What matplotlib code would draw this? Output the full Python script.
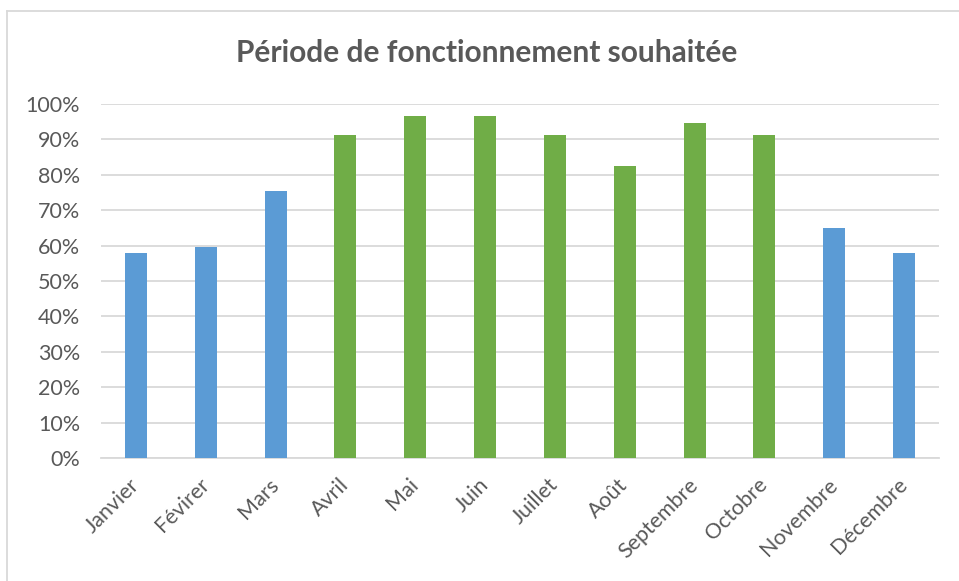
import matplotlib.pyplot as plt
from matplotlib.lines import Line2D
import numpy as np

months = ['Janvier', 'Févirer', 'Mars', 'Avril', 'Mai', 'Juin', 'Juillet',
          'Août', 'Septembre', 'Octobre', 'Novembre', 'Décembre']
values = [57.9, 59.6, 75.4, 91.2, 96.5, 96.5, 91.2, 82.5, 94.7, 91.2, 64.9, 57.9]
# green = summer season months
in_season = [False, False, False, True, True, True, True, True, True, True, False, False]
y_ticks = [0, 10, 20, 30, 40, 50, 60, 70, 80, 90, 100]

blue = '#5B9BD5'
green = '#70AD47'
text_col = '#595959'

plt.rcParams['font.family'] = ['Lato', 'DejaVu Sans']

fig = plt.figure(figsize=(9.59, 5.81), dpi=100)
ax = fig.add_axes([101 / 959, 1 - 458 / 581, 838 / 959, 354 / 581])

x = np.arange(len(months))
colors = [green if s else blue for s in in_season]
ax.bar(x, values, width=0.315, color=colors, zorder=3)

ax.set_xlim(-0.5, len(months) - 0.5)
ax.set_ylim(0, 100)
ax.set_yticks(y_ticks)
ax.set_yticklabels(['%d%%' % t for t in y_ticks])
ax.set_xticks(x)
ax.set_xticklabels(months, rotation=45, ha='right', va='center', rotation_mode='anchor')

ax.grid(axis='y', color='#d9d9d9', linewidth=1.3, zorder=0)
for s in ['top', 'right', 'left']:
    ax.spines[s].set_visible(False)
ax.spines['bottom'].set_color('#d9d9d9')
ax.spines['bottom'].set_linewidth(1.3)
ax.tick_params(axis='both', length=0, labelsize=15.5, colors=text_col)
ax.tick_params(axis='y', pad=15)
ax.tick_params(axis='x', pad=17)

fig.text(487 / 959, 1 - 53 / 581, 'Période de fonctionnement souhaitée',
         ha='center', va='center', fontsize=21.5, fontweight='bold', color=text_col)

# chart frame (only top and left edges visible in the crop)
fig.add_artist(Line2D([7 / 959, 7 / 959], [0, 1 - 11 / 581], transform=fig.transFigure,
                      color='#d9d9d9', linewidth=1.3))
fig.add_artist(Line2D([7 / 959, 1], [1 - 11 / 581, 1 - 11 / 581], transform=fig.transFigure,
                      color='#d9d9d9', linewidth=1.3))

fig.savefig('out.png', dpi=100)
